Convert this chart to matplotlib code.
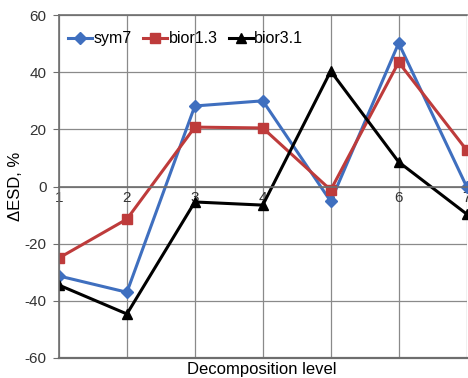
import matplotlib
matplotlib.use("Agg")
from matplotlib import pyplot as plt

levels = [1, 2, 3, 4, 5, 6, 7]
sym7 = [-31.3, -37.0, 28.2, 30.0, -5.2, 50.2, 0.0]
bior13 = [-25.0, -11.4, 20.8, 20.5, -1.2, 43.5, 12.8]
bior31 = [-34.5, -44.6, -5.4, -6.5, 40.4, 8.6, -9.6]
yticks = [-60, -40, -20, 0, 20, 40, 60]

plt.rcParams.update({"font.family": ["Liberation Sans", "DejaVu Sans"], "font.size": 11,
                     "axes.unicode_minus": False})

fig, ax = plt.subplots(figsize=(4.68, 3.78), dpi=100)
plt.subplots_adjust(left=0.126, right=0.997, top=0.96, bottom=0.053)

ax.plot(levels, sym7, color="#3F6FBF", marker="D", markersize=6, linewidth=2.2, label="sym7")
ax.plot(levels, bior13, color="#BE3B3B", marker="s", markersize=6.5, linewidth=2.2, label="bior1.3")
ax.plot(levels, bior31, color="black", marker="^", markersize=7.5, linewidth=2.2, label="bior3.1")

ax.set_xlim(1, 7)
ax.set_ylim(-60, 60)
ax.set_yticks(yticks)
ax.set_xticks(levels)

# x axis crosses at zero, like the spreadsheet original
ax.spines["bottom"].set_position(("data", 0))
ax.spines["right"].set_visible(False)
for s in ["bottom", "left", "top"]:
    ax.spines[s].set_color("#6e6e6e")
    ax.spines[s].set_linewidth(1.2)
ax.axhline(-60, color="#6e6e6e", linewidth=1.6, clip_on=False)
ax.tick_params(axis="x", length=0, pad=3, labelcolor="#333333")
ax.tick_params(axis="y", length=4, color="#6e6e6e", labelcolor="#333333", pad=5)

ax.grid(color="#8a8a8a", linewidth=0.9)
ax.set_axisbelow(True)

ax.set_ylabel("ΔESD, %", fontsize=12, labelpad=1)
fig.text(0.56, 0.022, "Decomposition level", ha="center", va="center", fontsize=12)

ax.legend(loc="upper left", ncol=3, frameon=False, fontsize=11.5, handlelength=1.5,
          handletextpad=0.1, columnspacing=0.7, borderaxespad=0.3, bbox_to_anchor=(-0.005, 0.985))

plt.savefig("out.png")
